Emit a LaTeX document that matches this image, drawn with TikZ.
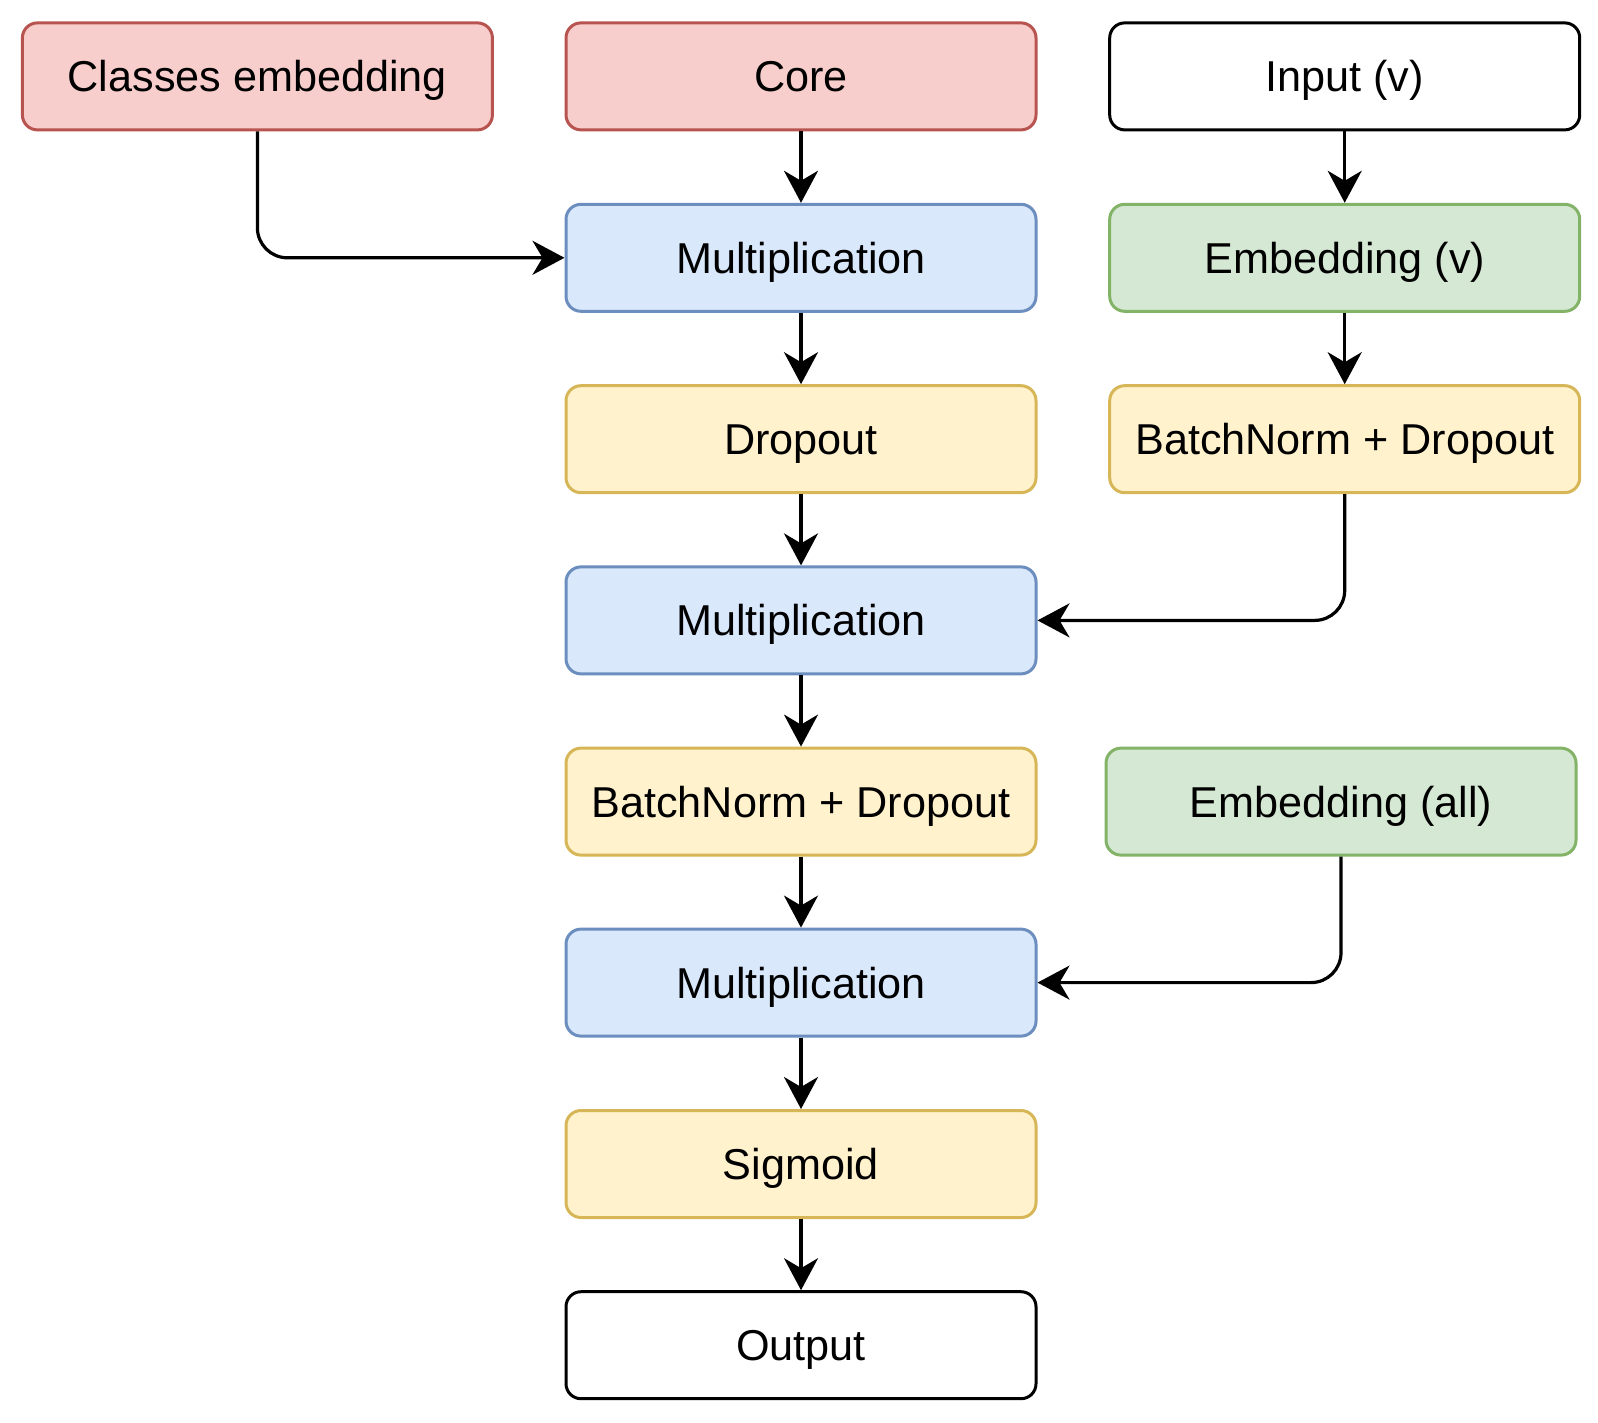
\documentclass[tikz,border=0pt]{standalone}
\usepackage{fontspec}
\setmainfont{Liberation Sans}
\usetikzlibrary{arrows.meta}
\definecolor{redF}{HTML}{F8CECC}\definecolor{redS}{HTML}{B85450}
\definecolor{bluF}{HTML}{DAE8FC}\definecolor{bluS}{HTML}{6C8EBF}
\definecolor{yelF}{HTML}{FFF2CC}\definecolor{yelS}{HTML}{D6B656}
\definecolor{grnF}{HTML}{D5E8D4}\definecolor{grnS}{HTML}{82B366}
\tikzset{
  box/.style={draw, rounded corners=7.5pt, line width=1.5pt, minimum width=235pt, minimum height=53.5pt,
    inner sep=0pt, text height=15.5pt, text depth=0pt, font=\fontsize{21.6}{26}\selectfont, text=black},
  redbox/.style={box, fill=redF, draw=redS},
  blubox/.style={box, fill=bluF, draw=bluS},
  yelbox/.style={box, fill=yelF, draw=yelS},
  grnbox/.style={box, fill=grnF, draw=grnS},
  whtbox/.style={box, fill=white, draw=black},
  conn/.style={line width=1.6pt, rounded corners=15pt, -{Stealth[length=16pt, width=17pt, inset=5pt]}}
}
\begin{document}
\begin{tikzpicture}[x=0.5pt, y=-0.5pt]
\useasboundingbox (0,0) rectangle (1598,1422);
\node[redbox] (cls) at (257.4,76.4) {Classes embedding};
\node[redbox] (core) at (801,76.4) {Core};
\node[whtbox] (inp) at (1344.7,76.4) {Input (v)};
\node[blubox] (m1) at (801,257.8) {Multiplication};
\node[grnbox] (embv) at (1344.7,257.8) {Embedding (v)};
\node[yelbox] (drop) at (801,439.2) {Dropout};
\node[yelbox] (bnr) at (1344.7,439.2) {BatchNorm + Dropout};
\node[blubox] (m2) at (801,620.4) {Multiplication};
\node[yelbox] (bnc) at (801,801.6) {BatchNorm + Dropout};
\node[grnbox] (emba) at (1341,801.6) {Embedding (all)};
\node[blubox] (m3) at (801,982.6) {Multiplication};
\node[yelbox] (sig) at (801,1164) {Sigmoid};
\node[whtbox] (out) at (801,1345.2) {Output};

\draw[conn] (cls.south) |- (m1.west);
\draw[conn] (core) -- (m1);
\draw[conn] (m1) -- (drop);
\draw[conn] (drop) -- (m2);
\draw[conn] (m2) -- (bnc);
\draw[conn] (bnc) -- (m3);
\draw[conn] (m3) -- (sig);
\draw[conn] (sig) -- (out);
\draw[conn] (inp) -- (embv);
\draw[conn] (embv) -- (bnr);
\draw[conn] (bnr.south) |- (m2.east);
\draw[conn] (emba.south) |- (m3.east);
\end{tikzpicture}
\end{document}
